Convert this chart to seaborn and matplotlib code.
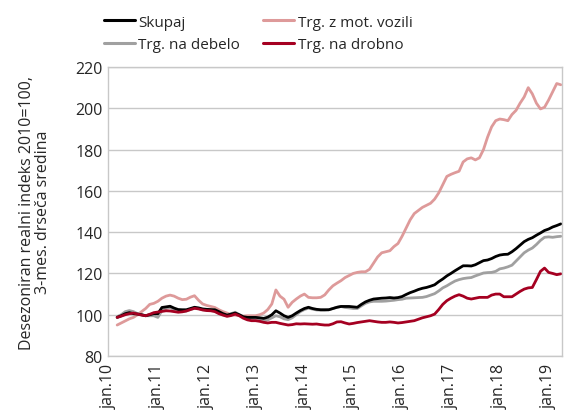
import matplotlib
matplotlib.use('Agg')
import matplotlib.pyplot as plt
import numpy as np
import pandas as pd
import seaborn as sns
from matplotlib.lines import Line2D

# months since jan.2010; series start at mar.2010 (3-month moving average)
months = list(range(2, 112))

skupaj = [
    98.7, 99.5, 100.5, 101.0, 100.5, 100.3, 100.0, 99.5, 100.0, 100.5,
    100.5, 103.5, 103.8, 104.1, 103.2, 102.5, 102.4, 102.4, 103.0, 103.6,
    103.3, 102.8, 102.6, 102.5, 102.4, 101.5, 100.5, 99.8, 100.3, 100.8,
    100.0, 99.0, 98.7, 98.7, 98.7, 98.5, 98.2, 98.8, 100.0, 101.9,
    100.8, 99.5, 98.7, 99.5, 100.8, 102.0, 103.0, 103.6, 103.0, 102.6,
    102.4, 102.4, 102.4, 103.0, 103.6, 104.0, 104.0, 104.0, 103.8, 103.6,
    105.0, 106.2, 107.0, 107.6, 107.8, 108.0, 108.1, 108.3, 108.1, 108.3,
    108.8, 109.8, 110.7, 111.4, 112.2, 112.8, 113.2, 113.8, 114.5, 116.0,
    117.3, 118.8, 120.0, 121.3, 122.5, 123.7, 123.7, 123.6, 124.2, 125.2,
    126.2, 126.5, 127.2, 128.2, 128.9, 129.2, 129.3, 130.5, 132.0, 133.7,
    135.4, 136.5, 137.3, 138.5, 139.6, 140.8, 141.5, 142.5, 143.2, 144.0,
]

mot_vozila = [
    95.0, 96.0, 97.0, 98.0, 98.7, 100.0, 101.5, 103.0, 105.0, 105.5,
    106.5, 108.0, 109.0, 109.5, 109.0, 108.0, 107.3, 107.5, 108.5, 109.2,
    107.0, 105.2, 104.5, 104.0, 103.5, 102.4, 101.5, 100.8, 100.0, 99.8,
    99.5, 99.3, 99.5, 99.5, 99.5, 100.0, 100.8, 102.5, 105.2, 112.0,
    109.0, 107.5, 103.6, 106.0, 107.6, 109.0, 110.0, 108.4, 108.2, 108.2,
    108.4, 109.6, 112.0, 114.0, 115.3, 116.5, 118.0, 119.0, 120.0, 120.5,
    120.8, 120.8, 122.0, 125.0, 128.0, 130.0, 130.5, 131.0, 133.0, 134.5,
    138.0, 142.0, 146.0, 149.0, 150.5, 152.0, 153.0, 154.0, 156.0, 159.0,
    163.0, 167.0, 168.0, 168.8, 169.5, 174.0, 175.5, 176.0, 175.0, 176.0,
    180.0, 186.0, 191.0, 194.0, 194.8, 194.5, 194.0, 197.0, 199.0, 202.5,
    205.5, 210.0, 207.0, 202.5, 199.7, 200.5, 204.0, 208.0, 212.0, 211.4,
]

debelo = [
    99.0, 100.0, 101.5, 102.0, 101.5, 100.5, 100.0, 99.5, 99.5, 99.5,
    98.7, 102.0, 103.0, 103.5, 102.5, 101.5, 101.5, 101.8, 102.5, 103.2,
    103.0, 102.4, 102.2, 102.0, 102.0, 101.0, 100.0, 99.5, 100.5, 101.2,
    100.0, 98.8, 98.2, 97.8, 97.5, 97.3, 97.0, 97.5, 98.5, 99.5,
    99.0, 98.0, 97.6, 98.5, 100.0, 101.5, 102.5, 103.2, 102.7, 102.3,
    102.2, 102.2, 102.4, 103.0, 103.6, 104.0, 103.5, 103.3, 103.0, 103.0,
    104.3, 105.5, 106.2, 106.5, 106.5, 106.5, 106.6, 106.8, 107.0, 107.3,
    107.5, 108.0, 108.1, 108.2, 108.3, 108.4, 108.8, 109.5, 110.2, 111.5,
    113.0, 114.0, 115.2, 116.3, 117.0, 117.5, 117.8, 118.0, 118.8, 119.5,
    120.2, 120.4, 120.5, 121.0, 122.2, 122.6, 123.2, 124.0, 126.0, 128.0,
    130.0, 131.3, 132.3, 134.0, 136.0, 137.5, 137.7, 137.5, 137.8, 138.0,
]

drobno = [
    98.7, 99.3, 100.0, 100.5, 100.8, 100.3, 99.8, 99.5, 100.2, 101.0,
    101.3, 101.6, 101.9, 101.8, 101.5, 101.2, 101.4, 101.8, 102.5, 103.1,
    102.8, 102.3, 102.0, 101.9, 101.5, 100.5, 99.8, 99.2, 99.6, 100.3,
    99.5, 98.3, 97.5, 97.1, 97.1, 96.8, 96.3, 96.0, 96.3, 96.3,
    95.8, 95.4, 95.0, 95.2, 95.6, 95.5, 95.6, 95.5, 95.4, 95.5,
    95.2, 95.0, 95.0, 95.6, 96.5, 96.6, 96.0, 95.5, 95.8, 96.2,
    96.5, 96.8, 97.1, 96.8, 96.5, 96.3, 96.3, 96.5, 96.3, 96.0,
    96.2, 96.5, 96.8, 97.1, 97.8, 98.5, 99.0, 99.5, 100.3, 102.5,
    105.0, 106.8, 108.0, 109.0, 109.7, 109.0, 108.0, 107.6, 108.0, 108.4,
    108.4, 108.4, 109.5, 110.0, 110.0, 108.7, 108.7, 108.7, 110.0, 111.3,
    112.4, 113.0, 113.2, 117.0, 121.0, 122.6, 120.5, 120.0, 119.4, 119.8,
]

series_names = ['Skupaj', 'Trg. na debelo', 'Trg. z mot. vozili', 'Trg. na drobno']
series_colors = ['#000000', '#A0A0A0', '#DE9A9A', '#A50021']
tick_pos = list(range(0, 109, 12))
tick_labels = ['jan.10', 'jan.11', 'jan.12', 'jan.13', 'jan.14',
               'jan.15', 'jan.16', 'jan.17', 'jan.18', 'jan.19']

frames = []
for name, vals in zip(series_names, [skupaj, debelo, mot_vozila, drobno]):
    frames.append(pd.DataFrame({'month': months, 'value': vals, 'series': name}))
df = pd.concat(frames, ignore_index=True)

sns.set_theme(style='white')
plt.rcParams['font.family'] = ['Open Sans', 'DejaVu Sans']

fig = plt.figure(figsize=(5.64, 4.14), dpi=100)
ax = fig.add_axes([0.1915, 0.1377, 0.805, 0.698])

# draw pink first so the other lines sit above it
draw_order = ['Trg. z mot. vozili', 'Trg. na debelo', 'Skupaj', 'Trg. na drobno']
palette = dict(zip(series_names, series_colors))
for name in draw_order:
    sns.lineplot(data=df[df['series'] == name], x='month', y='value',
                 color=palette[name], linewidth=2.0, ax=ax, legend=False)

ax.set_xlim(-0.25, 111.3)
ax.set_ylim(80, 220)
ax.set_yticks(np.arange(80, 221, 20))
ax.set_xticks(tick_pos)
ax.set_xticklabels(tick_labels, rotation=90, fontsize=11.5)
ax.tick_params(axis='y', labelsize=11.5, length=0, pad=4)
ax.tick_params(axis='x', length=0, pad=5)
ax.grid(axis='y', color='#C8C8C8', linewidth=1.0)
ax.set_axisbelow(True)
for sp in ax.spines.values():
    sp.set_color('#C8C8C8')
    sp.set_linewidth(1.0)
ax.set_xlabel('')
ax.set_ylabel('Desezoniran realni indeks 2010=100,\n3-mes. drseča sredina',
              fontsize=11.5, labelpad=17, linespacing=1.05)

handles = [Line2D([0], [0], color=palette[n], linewidth=2.2) for n in series_names]
fig.legend(handles, series_names, ncol=2, loc='upper left',
           bbox_to_anchor=(0.16, 0.995), frameon=False, fontsize=11,
           handlelength=2.0, handletextpad=0.25, columnspacing=1.5,
           labelspacing=0.5)

fig.savefig('out.png', dpi=100)
